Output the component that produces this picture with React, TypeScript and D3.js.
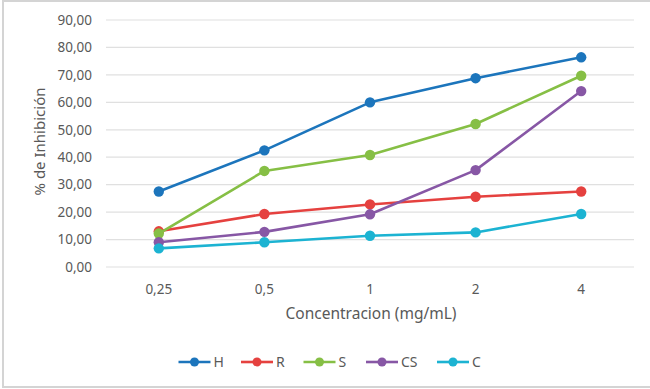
import { useMemo } from "react";
import * as d3 from "d3";

const WIDTH = 650;
const HEIGHT = 389;
const MARGIN = { top: 20, right: 16, bottom: 122, left: 106 };

const categories = ["0,25", "0,5", "1", "2", "4"];
const yTicks = [0, 10, 20, 30, 40, 50, 60, 70, 80, 90];

const seriesH = [27.5, 42.5, 60.0, 68.8, 76.4];
const seriesR = [13.0, 19.3, 22.8, 25.6, 27.5];
const seriesS = [12.2, 35.0, 40.8, 52.1, 69.7];
const seriesCS = [9.0, 12.8, 19.2, 35.3, 64.1];
const seriesC = [6.8, 9.0, 11.4, 12.6, 19.3];

const seriesNames = ["H", "R", "S", "CS", "C"];
const seriesColors = ["#1C75BC", "#E5413F", "#86BF45", "#8757A5", "#1CB3D2"];

const FONT = "'Noto Sans', 'Open Sans', sans-serif";
const TEXT_COLOR = "#595959";

export default function App() {
  const boundsWidth = WIDTH - MARGIN.left - MARGIN.right;
  const boundsHeight = HEIGHT - MARGIN.top - MARGIN.bottom;

  const series = [seriesH, seriesR, seriesS, seriesCS, seriesC].map((values, i) => ({
    name: seriesNames[i],
    color: seriesColors[i],
    values,
  }));

  const xScale = useMemo(
    () => d3.scaleBand().domain(categories).range([0, boundsWidth]),
    [boundsWidth]
  );
  const yScale = useMemo(
    () => d3.scaleLinear().domain([0, 90]).range([boundsHeight, 0]),
    [boundsHeight]
  );

  const line = d3
    .line<number>()
    .x((_, i) => xScale(categories[i])! + xScale.bandwidth() / 2)
    .y((d) => yScale(d));

  // legend layout: marker line + label, laid out from text widths
  const legendWidths = seriesNames.map((n) => 32 + 4 + n.length * 8.5 + 18);
  const legendTotal = d3.sum(legendWidths) - 18;
  const legendStart = WIDTH / 2 + 5 - legendTotal / 2;
  const legendX = legendWidths.map((_, i) => legendStart + d3.sum(legendWidths.slice(0, i)));

  return (
    <svg
      width={WIDTH}
      height={HEIGHT}
      style={{ position: "fixed", left: 0, top: 0, background: "#fff" }}
      fontFamily={FONT}
    >
      {/* chart frame */}
      <rect x={3} y={1} width={WIDTH + 10} height={HEIGHT - 3} fill="none" stroke="#d4d4d4" strokeWidth={2} />

      <g transform={`translate(${MARGIN.left},${MARGIN.top})`}>
        {/* grid + y labels */}
        {yTicks.map((t) => (
          <g key={t} transform={`translate(0,${yScale(t)})`}>
            <line x2={boundsWidth} stroke="#e0e0e0" strokeWidth={1.2} />
            <text x={-14} dy="0.35em" textAnchor="end" fontSize={13.5} fill={TEXT_COLOR}>
              {t.toFixed(2).replace(".", ",")}
            </text>
          </g>
        ))}

        {/* x labels */}
        {categories.map((c) => (
          <text
            key={c}
            x={xScale(c)! + xScale.bandwidth() / 2}
            y={boundsHeight + 27}
            textAnchor="middle"
            fontSize={13.5}
            fill={TEXT_COLOR}
          >
            {c}
          </text>
        ))}

        {/* series */}
        {series.map((s) => (
          <g key={s.name}>
            <path d={line(s.values) ?? ""} fill="none" stroke={s.color} strokeWidth={2.6} strokeLinejoin="round" />
            {s.values.map((v, i) => (
              <circle
                key={i}
                cx={xScale(categories[i])! + xScale.bandwidth() / 2}
                cy={yScale(v)}
                r={5.2}
                fill={s.color}
              />
            ))}
          </g>
        ))}
      </g>

      {/* axis titles */}
      <text
        transform={`translate(45,${MARGIN.top + boundsHeight / 2 - 2}) rotate(-90)`}
        textAnchor="middle"
        fontSize={15}
        fill={TEXT_COLOR}
      >
        % de Inhibición
      </text>
      <text x={MARGIN.left + boundsWidth / 2 + 1} y={319} textAnchor="middle" fontSize={15.5} fill={TEXT_COLOR}>
        Concentracion (mg/mL)
      </text>

      {/* legend */}
      {series.map((s, i) => (
        <g key={s.name} transform={`translate(${legendX[i]},362)`}>
          <line x2={32} stroke={s.color} strokeWidth={2.6} />
          <circle cx={16} r={4.5} fill={s.color} />
          <text x={35} dy="0.35em" fontSize={14} fill={TEXT_COLOR}>
            {s.name}
          </text>
        </g>
      ))}
    </svg>
  );
}
